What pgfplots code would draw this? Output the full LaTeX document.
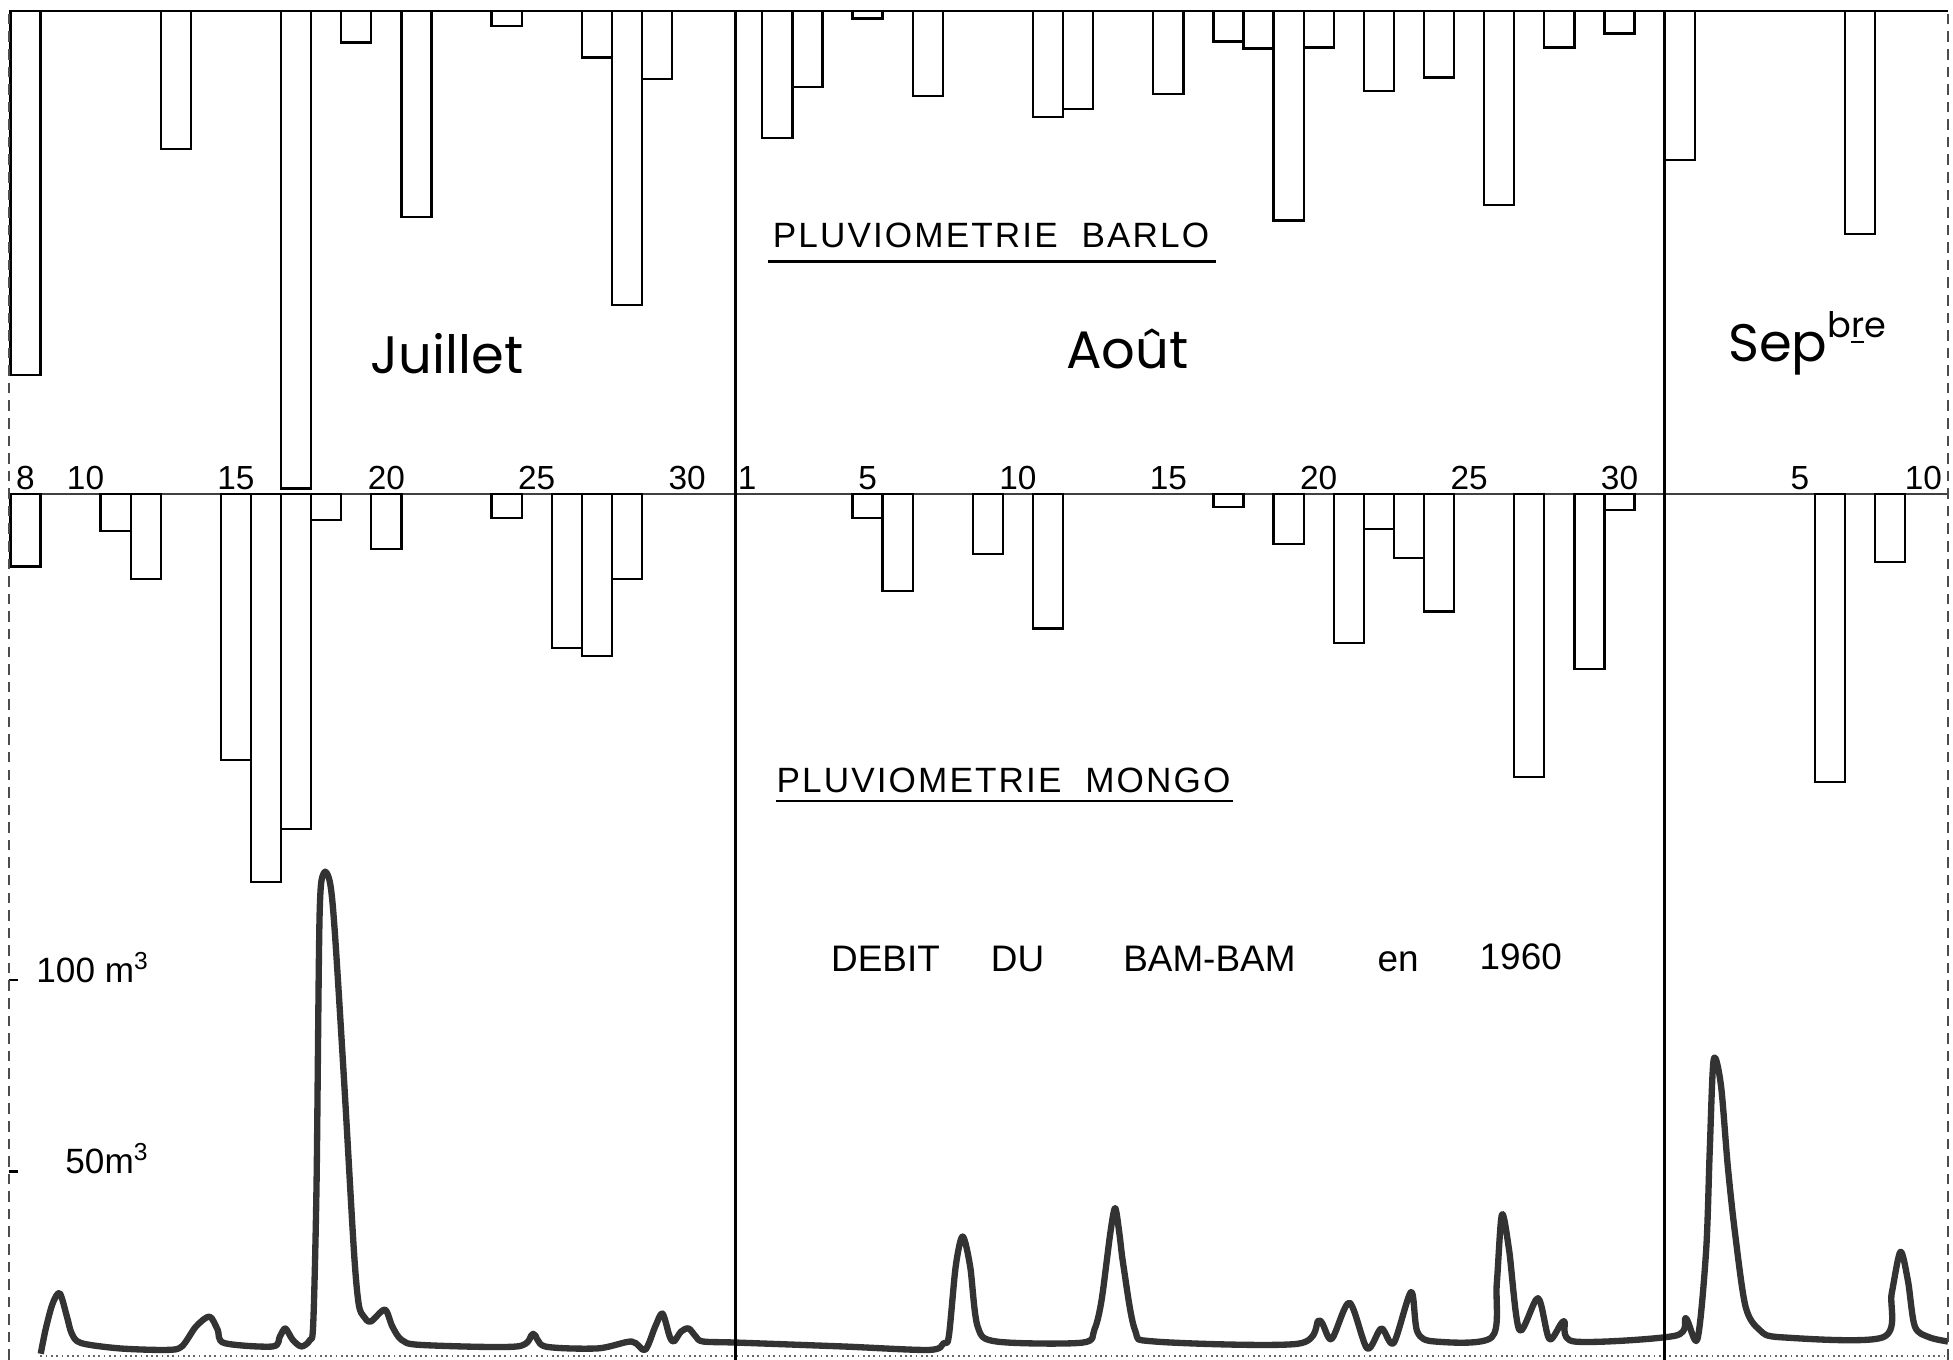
\documentclass[border=0pt]{standalone}
\usepackage{pgfplots}
\pgfplotsset{compat=1.18}
\usepackage{fontspec}
\setmainfont{Liberation Sans}
\newfontfamily\monthfont{Poppins}
\newfontfamily\titlefont[LetterSpace=6]{Liberation Sans}

% Days are counted from 1 July: 1 Aug = 32, 1 Sept = 63.
\pgfplotsset{
  chronique/.style={
    scale only axis, width=19.3925cm,
    xmin=7.445, xmax=71.92,
    enlargelimits=false,
    axis line style={draw=none},
    clip=false,
  },
  pluie/.style={ybar, bar width=1, draw=black, fill=white, line width=0.65pt},
}

\begin{document}
\begin{tikzpicture}
\useasboundingbox (0,0) rectangle (19.53,13.6);

% ---------------- Pluviometrie Barlo (mm, hanging from the top line)
\begin{axis}[chronique,
  at={(0.0872cm,8.6563cm)}, anchor=south west,
  height=4.8326cm, ymin=0, ymax=97, y dir=reverse,
  ytick=\empty,
  xtick={8,10,15,20,25,30,32,36,41,46,51,56,61,67,71.1},
  xticklabels={8,10,15,20,25,30,1,5,10,15,20,25,30,5,10},
  major tick length=0pt, xtick style={draw=none},
  xticklabel style={anchor=base, yshift=0.05cm, font=\fontsize{9.5}{10}\selectfont},
]
\addplot[pluie] coordinates {
  (8,73.0) (13,27.7) (17,95.8) (19,6.3) (21,41.3) (24,3.0) (27,9.3) (28,59.0) (29,13.6)
  (33,25.5) (34,15.2) (36,1.5) (38,17.0) (42,21.3) (43,19.6) (46,16.7) (48,6.1)
  (49,7.5) (50,42.0) (51,7.3) (53,16.0) (55,13.3) (57,38.9) (59,7.3) (61,4.5)
  (63,29.9) (69,44.8)
};
\draw[line width=0.7pt] (axis cs:7.445,0) -- (axis cs:71.92,0);
\draw[line width=0.5pt, black!75] (axis cs:7.445,97) -- (axis cs:71.92,97);
\end{axis}

% ---------------- Pluviometrie Mongo (mm, hanging from the middle line)
\begin{axis}[chronique,
  at={(0.0872cm,4.6333cm)}, anchor=south west,
  height=4.0230cm, ymin=0, ymax=80.75, y dir=reverse,
  xtick=\empty, ytick=\empty,
]
\addplot[pluie] coordinates {
  (8,14.5) (11,7.3) (12,17.0) (15,53.3) (16,77.8) (17,67.2) (18,5.1) (20,11.0)
  (24,4.8) (26,30.8) (27,32.5) (28,17.0)
  (36,4.7) (37,19.4) (40,12.0) (42,26.9) (48,2.5) (50,10.0) (52,29.8) (53,7.0)
  (54,12.8) (55,23.5) (58,56.8) (60,35.0) (61,3.1)
  (68,57.8) (70,13.6)
};
\end{axis}

% ---------------- Debit du Bam-Bam (m3)
\begin{axis}[chronique,
  at={(0.0872cm,-0.0336cm)}, anchor=south west,
  height=5.0406cm, ymin=0, ymax=131.52,
  xtick=\empty,
  ytick={50,100},
  yticklabels={{\hspace*{0.29cm}50m\textsuperscript{3}},{100 m\textsuperscript{3}}},
  ytick pos=left, tick align=inside, major tick length=0.09cm,
  ytick style={line width=0.8pt, black},
  yticklabel style={anchor=base west, xshift=0.27cm, yshift=-0.02cm, inner sep=0pt,
    font=\fontsize{10}{12}\selectfont},
]
\addplot[smooth, tension=0.5, line width=1.8pt, black!80, line join=round] coordinates {
  (8.51,2.5) (8.67,8.8) (8.90,15.5) (9.14,18.3) (9.38,12.2) (9.54,7.8) (9.85,5.3)
  (11.13,3.9) (12.70,3.5) (13.20,4.4) (13.67,9.6) (14.12,12.2) (14.39,8.8) (14.61,5.3)
  (16.22,4.4) (16.46,7.0) (16.64,9.1) (16.89,6.1) (17.18,4.4) (17.46,6.1) (17.57,10.5)
  (17.68,47.0) (17.78,116.6) (17.92,127.9) (18.13,125.3) (18.29,112.2) (18.60,73.1)
  (18.92,29.6) (19.08,15.5) (19.25,12.2) (19.48,10.9) (19.95,14.0) (20.20,9.6)
  (20.51,6.1) (21.15,4.8) (24.34,4.4) (24.88,7.7) (25.28,4.4) (27.03,3.9) (28.15,5.7)
  (28.60,3.5) (28.94,9.6) (29.18,13.0) (29.42,7.0) (29.56,5.7) (29.80,8.3) (30.05,9.1)
  (30.29,7.0) (30.53,5.7) (31.71,5.4) (35.19,4.4) (38.05,3.5) (38.53,5.3) (38.70,7.0)
  (38.93,25.3) (39.16,33.1) (39.41,25.3) (39.66,9.6) (40.28,5.7) (43.14,5.4)
  (43.54,8.8) (43.78,16.5) (44.07,34.0) (44.23,40.5) (44.37,34.0) (44.51,25.3)
  (44.89,8.7) (45.54,5.7) (50.30,5.1) (51.01,11.2) (51.42,6.3) (52.02,15.8)
  (52.61,3.9) (53.08,9.1) (53.49,5.3) (54.07,18.6) (54.28,8.2) (54.86,5.7)
  (56.75,6.8) (56.92,20.9) (57.09,38.8) (57.33,29.5) (57.67,8.7) (58.29,17.0)
  (58.67,6.3) (59.15,11.0) (59.49,5.7) (62.85,7.2) (63.20,11.8) (63.59,6.3)
  (63.88,29.5) (64.00,55.6) (64.13,79.2) (64.37,72.7) (64.60,51.4) (64.84,34.0)
  (65.19,14.8) (65.66,8.7) (66.37,6.8) (69.76,6.8) (70.05,18.3) (70.34,29.1)
  (70.59,21.5) (70.82,9.6) (71.30,6.8) (71.92,5.7)
};
% frame and month boundaries
\draw[densely dashed, line width=0.5pt, black!70] (axis cs:7.445,0.88) -- (axis cs:7.445,352.8);
\draw[densely dashed, line width=0.5pt, black!70] (axis cs:71.92,0.88) -- (axis cs:71.92,352.8);
\draw[densely dotted, line width=0.5pt, black!60] (axis cs:8.5,1.85) -- (axis cs:71.92,1.85);
\draw[line width=0.9pt] (axis cs:31.6,0.88) -- (axis cs:31.6,352.8);
\draw[line width=0.9pt] (axis cs:62.5,0.88) -- (axis cs:62.5,352.8);
\end{axis}

% ---------------- titles
\node[anchor=base west, inner sep=0pt, font=\titlefont\fontsize{10}{11}\selectfont]
  (tb) at (7.7221,11.1223) {PLUVIOMETRIE\ \ BARLO};
\draw[line width=0.7pt] (7.6847,10.9853) -- (12.1561,10.9853);
\node[anchor=base west, inner sep=0pt, font=\titlefont\fontsize{10}{11}\selectfont]
  (tm) at (7.7595,5.6733) {PLUVIOMETRIE\ \ MONGO};
\draw[line width=0.7pt] (7.7595,5.5923) -- (12.3305,5.5923);

\node[anchor=base, inner sep=0pt, font=\monthfont\fontsize{15}{18}\selectfont] at (4.4713,9.8644) {Juillet};
\node[anchor=base, inner sep=0pt, font=\monthfont\fontsize{15}{18}\selectfont] at (11.2718,9.9142) {Août};
\node[anchor=base west, inner sep=0pt, font=\monthfont\fontsize{15}{18}\selectfont] at (17.2751,9.9889)
  {Sep\raisebox{0.24cm}{\fontsize{10}{12}\selectfont b\underline{r}e}};

\begin{scope}[every node/.style={anchor=base, inner sep=0pt, font=\fontsize{10.5}{12}\selectfont}]
\node at (8.8555,3.886) {DEBIT};
\node at (10.1757,3.886) {DU};
\node at (12.0938,3.886) {BAM-BAM};
\node at (13.9808,3.886) {en};
\node at (15.2076,3.900) {1960};
\end{scope}
\end{tikzpicture}
\end{document}
